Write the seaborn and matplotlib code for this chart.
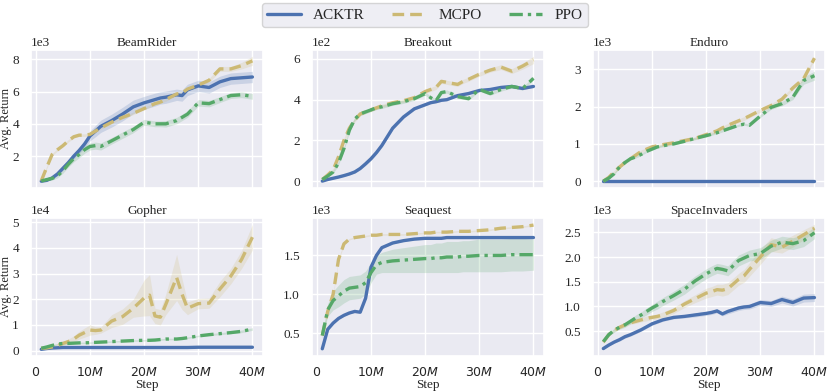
import matplotlib
matplotlib.use("Agg")
import matplotlib.pyplot as plt
import seaborn as sns
from matplotlib.ticker import MultipleLocator

# x positions (million steps) at which values were read
STEPS = [1, 2, 3, 4, 5, 6, 7, 8, 9, 10, 11, 12, 14, 16, 18, 20, 21, 22, 23, 24, 26, 27, 28, 30, 32, 34, 36, 38, 40]

GAMES = ["BeamRider", "Breakout", "Enduro", "Gopher", "Seaquest", "SpaceInvaders"]
SCALES = [1e3, 1e2, 1e3, 1e4, 1e3, 1e3]
YTICK_STEPS = [2000, 200, 1000, 10000, 500, 500]
METHODS = ["ACKTR", "MCPO", "PPO"]

# BeamRider (x1e3)
BR_ACKTR = [0.45, 0.5, 0.65, 0.9, 1.25, 1.6, 2.0, 2.35, 2.75, 3.25, 3.55, 3.85, 4.2, 4.6, 5.05, 5.3, 5.4, 5.5, 5.6, 5.65, 5.8, 5.75, 6.1, 6.35, 6.25, 6.6, 6.8, 6.85, 6.9]
BR_ACKTR_SD = [0.02, 0.04, 0.06, 0.1, 0.12, 0.15, 0.18, 0.2, 0.25, 0.3, 0.35, 0.38, 0.4, 0.42, 0.42, 0.4, 0.4, 0.4, 0.38, 0.38, 0.35, 0.35, 0.35, 0.35, 0.35, 0.35, 0.35, 0.35, 0.35]
BR_MCPO = [0.47, 1.3, 2.1, 2.4, 2.65, 2.95, 3.2, 3.3, 3.3, 3.35, 3.55, 3.75, 4.1, 4.4, 4.65, 4.95, 5.1, 5.25, 5.35, 5.5, 5.85, 5.9, 6.15, 6.4, 6.7, 7.4, 7.4, 7.6, 7.9]
BR_MCPO_SD = [0.02, 0.08, 0.08, 0.08, 0.08, 0.08, 0.08, 0.08, 0.08, 0.08, 0.08, 0.08, 0.08, 0.08, 0.08, 0.08, 0.08, 0.08, 0.08, 0.1, 0.1, 0.1, 0.1, 0.1, 0.12, 0.15, 0.15, 0.2, 0.28]
BR_PPO = [0.46, 0.55, 0.62, 0.78, 1.1, 1.5, 1.85, 2.1, 2.4, 2.6, 2.65, 2.6, 2.95, 3.3, 3.65, 4.1, 4.05, 4.0, 4.0, 4.0, 4.2, 4.4, 4.6, 5.3, 5.25, 5.5, 5.75, 5.8, 5.7]
BR_PPO_SD = [0.02, 0.06, 0.1, 0.12, 0.15, 0.18, 0.2, 0.2, 0.22, 0.22, 0.22, 0.22, 0.2, 0.2, 0.2, 0.18, 0.18, 0.18, 0.18, 0.2, 0.2, 0.2, 0.2, 0.2, 0.2, 0.18, 0.18, 0.18, 0.18]

# Breakout (x1e2)
BO_ACKTR = [0.0, 0.08, 0.14, 0.2, 0.27, 0.35, 0.45, 0.62, 0.85, 1.1, 1.4, 1.75, 2.6, 3.15, 3.55, 3.75, 3.85, 3.9, 3.97, 4.0, 4.2, 4.25, 4.3, 4.45, 4.5, 4.6, 4.65, 4.55, 4.65]
BO_ACKTR_SD = [0.02, 0.02, 0.02, 0.03, 0.03, 0.04, 0.05, 0.06, 0.07, 0.08, 0.08, 0.08, 0.08, 0.07, 0.06, 0.05, 0.05, 0.05, 0.05, 0.05, 0.05, 0.05, 0.05, 0.05, 0.05, 0.05, 0.05, 0.05, 0.05]
BO_MCPO = [0.08, 0.3, 0.55, 1.2, 2.0, 2.6, 3.0, 3.3, 3.4, 3.5, 3.6, 3.7, 3.85, 3.95, 4.1, 4.4, 4.5, 4.6, 4.9, 4.85, 4.75, 4.9, 5.0, 5.25, 5.45, 5.6, 5.4, 5.65, 5.95]
BO_MCPO_SD = [0.03, 0.05, 0.08, 0.1, 0.12, 0.12, 0.1, 0.08, 0.08, 0.08, 0.08, 0.08, 0.08, 0.08, 0.08, 0.1, 0.1, 0.1, 0.1, 0.1, 0.1, 0.1, 0.1, 0.1, 0.1, 0.12, 0.12, 0.15, 0.18]
BO_PPO = [0.08, 0.25, 0.45, 0.9, 1.6, 2.5, 3.05, 3.3, 3.4, 3.5, 3.6, 3.65, 3.8, 3.9, 4.05, 4.3, 4.1, 3.95, 4.35, 4.4, 4.15, 4.1, 4.05, 4.5, 4.3, 4.5, 4.65, 4.55, 5.05]
BO_PPO_SD = [0.03, 0.05, 0.08, 0.1, 0.1, 0.1, 0.08, 0.08, 0.08, 0.08, 0.08, 0.08, 0.08, 0.08, 0.08, 0.08, 0.08, 0.08, 0.08, 0.08, 0.08, 0.08, 0.08, 0.08, 0.08, 0.08, 0.08, 0.08, 0.08]

# Enduro (x1e3)
EN_ACKTR = [0.0, 0.0, 0.0, 0.0, 0.0, 0.0, 0.0, 0.0, 0.0, 0.0, 0.0, 0.0, 0.0, 0.0, 0.0, 0.0, 0.0, 0.0, 0.0, 0.0, 0.0, 0.0, 0.0, 0.0, 0.0, 0.0, 0.0, 0.0, 0.0]
EN_ACKTR_SD = [0.0, 0.0, 0.0, 0.0, 0.0, 0.0, 0.0, 0.0, 0.0, 0.0, 0.0, 0.0, 0.0, 0.0, 0.0, 0.0, 0.0, 0.0, 0.0, 0.0, 0.0, 0.0, 0.0, 0.0, 0.0, 0.0, 0.0, 0.0, 0.0]
EN_MCPO = [0.0, 0.1, 0.25, 0.38, 0.5, 0.6, 0.7, 0.8, 0.86, 0.92, 0.95, 0.98, 1.03, 1.09, 1.15, 1.25, 1.3, 1.35, 1.43, 1.5, 1.62, 1.68, 1.75, 1.9, 2.03, 2.2, 2.5, 2.75, 3.3]
EN_MCPO_SD = [0.01, 0.03, 0.04, 0.04, 0.04, 0.04, 0.04, 0.04, 0.04, 0.04, 0.04, 0.04, 0.04, 0.04, 0.04, 0.04, 0.04, 0.05, 0.05, 0.05, 0.05, 0.05, 0.05, 0.05, 0.05, 0.05, 0.05, 0.05, 0.05]
EN_PPO = [0.0, 0.08, 0.2, 0.38, 0.5, 0.6, 0.65, 0.72, 0.8, 0.86, 0.92, 0.95, 1.0, 1.07, 1.15, 1.22, 1.26, 1.3, 1.35, 1.4, 1.5, 1.53, 1.5, 1.75, 1.98, 2.08, 2.25, 2.7, 2.83]
EN_PPO_SD = [0.01, 0.02, 0.03, 0.03, 0.03, 0.03, 0.03, 0.03, 0.03, 0.03, 0.03, 0.03, 0.03, 0.03, 0.03, 0.03, 0.03, 0.03, 0.03, 0.03, 0.03, 0.03, 0.03, 0.04, 0.05, 0.06, 0.06, 0.1, 0.12]

# Gopher (x1e4)
GO_ACKTR = [0.05, 0.08, 0.1, 0.11, 0.12, 0.12, 0.12, 0.12, 0.12, 0.12, 0.12, 0.12, 0.12, 0.12, 0.12, 0.12, 0.12, 0.12, 0.12, 0.12, 0.12, 0.12, 0.12, 0.13, 0.13, 0.13, 0.13, 0.13, 0.13]
GO_ACKTR_SD = [0.01, 0.01, 0.01, 0.01, 0.01, 0.01, 0.01, 0.01, 0.01, 0.01, 0.01, 0.01, 0.01, 0.01, 0.01, 0.01, 0.01, 0.01, 0.01, 0.01, 0.01, 0.01, 0.01, 0.01, 0.01, 0.01, 0.01, 0.01, 0.01]
GO_MCPO = [0.09, 0.1, 0.14, 0.2, 0.28, 0.35, 0.45, 0.6, 0.7, 0.8, 0.78, 0.8, 1.15, 1.32, 1.65, 2.05, 2.16, 1.35, 1.3, 1.8, 2.85, 2.2, 1.65, 1.83, 1.85, 2.4, 2.9, 3.55, 4.42]
GO_MCPO_SD = [0.02, 0.03, 0.05, 0.06, 0.08, 0.1, 0.12, 0.15, 0.18, 0.2, 0.15, 0.12, 0.25, 0.3, 0.35, 0.7, 0.8, 0.3, 0.3, 0.4, 0.9, 0.6, 0.25, 0.2, 0.2, 0.3, 0.3, 0.35, 0.5]
GO_PPO = [0.09, 0.14, 0.2, 0.25, 0.28, 0.28, 0.29, 0.3, 0.3, 0.31, 0.32, 0.33, 0.35, 0.37, 0.39, 0.4, 0.4, 0.41, 0.43, 0.45, 0.45, 0.47, 0.5, 0.57, 0.62, 0.66, 0.7, 0.75, 0.84]
GO_PPO_SD = [0.02, 0.03, 0.03, 0.03, 0.03, 0.03, 0.03, 0.03, 0.03, 0.03, 0.03, 0.03, 0.03, 0.03, 0.03, 0.03, 0.03, 0.03, 0.03, 0.03, 0.03, 0.03, 0.03, 0.03, 0.04, 0.04, 0.04, 0.05, 0.05]

# Seaquest (x1e3)
SQ_ACKTR = [0.3, 0.55, 0.63, 0.69, 0.73, 0.76, 0.78, 0.77, 0.95, 1.35, 1.5, 1.6, 1.66, 1.69, 1.71, 1.72, 1.72, 1.72, 1.72, 1.73, 1.73, 1.73, 1.73, 1.73, 1.73, 1.73, 1.73, 1.73, 1.73]
SQ_ACKTR_SD = [0.01, 0.01, 0.01, 0.01, 0.01, 0.01, 0.01, 0.01, 0.02, 0.02, 0.02, 0.01, 0.01, 0.01, 0.01, 0.01, 0.01, 0.01, 0.01, 0.01, 0.01, 0.01, 0.01, 0.01, 0.01, 0.01, 0.01, 0.01, 0.01]
SQ_MCPO = [0.47, 0.78, 1.0, 1.45, 1.65, 1.71, 1.73, 1.74, 1.75, 1.76, 1.76, 1.77, 1.77, 1.77, 1.78, 1.79, 1.79, 1.8, 1.8, 1.8, 1.81, 1.81, 1.81, 1.82, 1.83, 1.85, 1.86, 1.87, 1.89]
SQ_MCPO_SD = [0.02, 0.02, 0.02, 0.02, 0.02, 0.01, 0.01, 0.01, 0.01, 0.01, 0.01, 0.01, 0.01, 0.01, 0.01, 0.01, 0.01, 0.01, 0.01, 0.01, 0.01, 0.01, 0.01, 0.01, 0.01, 0.01, 0.01, 0.01, 0.01]
SQ_PPO = [0.47, 0.8, 0.92, 0.98, 1.04, 1.08, 1.09, 1.1, 1.15, 1.28, 1.38, 1.41, 1.43, 1.44, 1.45, 1.46, 1.46, 1.47, 1.47, 1.48, 1.48, 1.49, 1.49, 1.5, 1.5, 1.5, 1.51, 1.51, 1.51]
SQ_PPO_SD = [0.03, 0.08, 0.12, 0.14, 0.15, 0.15, 0.15, 0.15, 0.15, 0.13, 0.12, 0.13, 0.15, 0.16, 0.17, 0.18, 0.18, 0.19, 0.19, 0.2, 0.2, 0.2, 0.2, 0.21, 0.21, 0.21, 0.21, 0.21, 0.2]

# SpaceInvaders (x1e3)
SI_ACKTR = [0.15, 0.22, 0.28, 0.33, 0.39, 0.43, 0.48, 0.53, 0.59, 0.65, 0.69, 0.73, 0.78, 0.8, 0.83, 0.86, 0.88, 0.91, 0.85, 0.9, 0.97, 0.99, 1.0, 1.08, 1.06, 1.14, 1.08, 1.17, 1.18]
SI_ACKTR_SD = [0.02, 0.02, 0.02, 0.03, 0.03, 0.03, 0.03, 0.03, 0.03, 0.03, 0.03, 0.03, 0.03, 0.03, 0.04, 0.04, 0.04, 0.04, 0.04, 0.05, 0.05, 0.05, 0.05, 0.06, 0.06, 0.07, 0.07, 0.08, 0.08]
SI_MCPO = [0.28, 0.43, 0.52, 0.58, 0.63, 0.67, 0.7, 0.73, 0.76, 0.78, 0.8, 0.83, 0.92, 1.05, 1.16, 1.27, 1.3, 1.34, 1.33, 1.36, 1.55, 1.62, 1.75, 2.0, 2.25, 2.2, 2.32, 2.45, 2.58]
SI_MCPO_SD = [0.03, 0.03, 0.03, 0.03, 0.03, 0.03, 0.04, 0.04, 0.05, 0.05, 0.05, 0.06, 0.06, 0.07, 0.08, 0.1, 0.1, 0.11, 0.12, 0.12, 0.12, 0.13, 0.14, 0.15, 0.14, 0.12, 0.12, 0.1, 0.08]
SI_PPO = [0.29, 0.43, 0.52, 0.58, 0.63, 0.7, 0.77, 0.83, 0.9, 0.97, 1.03, 1.1, 1.22, 1.35, 1.52, 1.66, 1.72, 1.77, 1.75, 1.72, 1.93, 1.98, 2.03, 2.07, 2.22, 2.3, 2.27, 2.33, 2.49]
SI_PPO_SD = [0.03, 0.03, 0.04, 0.04, 0.05, 0.05, 0.06, 0.06, 0.07, 0.07, 0.08, 0.08, 0.09, 0.1, 0.1, 0.1, 0.1, 0.1, 0.1, 0.1, 0.11, 0.11, 0.11, 0.12, 0.12, 0.12, 0.12, 0.12, 0.12]

XTICKS = [0, 10, 20, 30, 40]
XTICK_LABELS = ["$0$", "$10M$", "$20M$", "$30M$", "$40M$"]

sns.set_theme(style="darkgrid")
plt.rcParams["font.family"] = "serif"
plt.rcParams["font.serif"] = ["Liberation Serif", "DejaVu Serif"]

pal = sns.color_palette("deep")
colors = {"ACKTR": pal[0], "MCPO": pal[8], "PPO": pal[2]}
styles = {"ACKTR": "-", "MCPO": (0, (3.5, 1.8)), "PPO": (0, (4, 1.5, 1, 1.5))}

panels = [
    [(BR_ACKTR, BR_ACKTR_SD), (BR_MCPO, BR_MCPO_SD), (BR_PPO, BR_PPO_SD)],
    [(BO_ACKTR, BO_ACKTR_SD), (BO_MCPO, BO_MCPO_SD), (BO_PPO, BO_PPO_SD)],
    [(EN_ACKTR, EN_ACKTR_SD), (EN_MCPO, EN_MCPO_SD), (EN_PPO, EN_PPO_SD)],
    [(GO_ACKTR, GO_ACKTR_SD), (GO_MCPO, GO_MCPO_SD), (GO_PPO, GO_PPO_SD)],
    [(SQ_ACKTR, SQ_ACKTR_SD), (SQ_MCPO, SQ_MCPO_SD), (SQ_PPO, SQ_PPO_SD)],
    [(SI_ACKTR, SI_ACKTR_SD), (SI_MCPO, SI_MCPO_SD), (SI_PPO, SI_PPO_SD)],
]

fig, axes = plt.subplots(2, 3, figsize=(8.3, 3.91), dpi=100)
fig.subplots_adjust(left=0.037, right=0.994, top=0.872, bottom=0.09, wspace=0.21, hspace=0.22)

for i, ax in enumerate(axes.flat):
    scale = SCALES[i]
    for name, (mean, sd) in zip(METHODS, panels[i]):
        y = [m * scale for m in mean]
        lo = [(m - s) * scale for m, s in zip(mean, sd)]
        hi = [(m + s) * scale for m, s in zip(mean, sd)]
        sns.lineplot(x=STEPS, y=y, ax=ax, color=colors[name], linestyle=styles[name],
                     linewidth=2.4, label=name, legend=False)
        ax.fill_between(STEPS, lo, hi, color=colors[name], alpha=0.2, linewidth=0)
    ax.set_title(GAMES[i], fontsize=9.5, pad=3)
    ax.yaxis.set_major_locator(MultipleLocator(YTICK_STEPS[i]))
    ax.ticklabel_format(style="sci", axis="y", scilimits=(0, 0))
    ax.yaxis.get_offset_text().set_fontsize(9.5)
    ax.tick_params(axis="y", labelsize=9.5, pad=2.5)
    ax.tick_params(axis="x", labelsize=9, pad=1)
    ax.set_xticks(XTICKS)
    if i >= 3:
        ax.set_xticklabels(XTICK_LABELS)
        ax.set_xlabel("Step", fontsize=9.5)
        ax.xaxis.set_label_coords(0.5, -0.165)
    else:
        ax.set_xticklabels([])
    if i % 3 == 0:
        ax.set_ylabel("Avg. Return", fontsize=9)
        ax.yaxis.set_label_coords(-0.08, 0.5)

handles, labels = axes[0, 0].get_legend_handles_labels()
fig.legend(handles, labels, loc="upper center", bbox_to_anchor=(0.512, 1.012), ncol=3,
           fontsize=11, handlelength=2.2, columnspacing=1.8, borderpad=0.35)

plt.savefig("out.png", dpi=100)
